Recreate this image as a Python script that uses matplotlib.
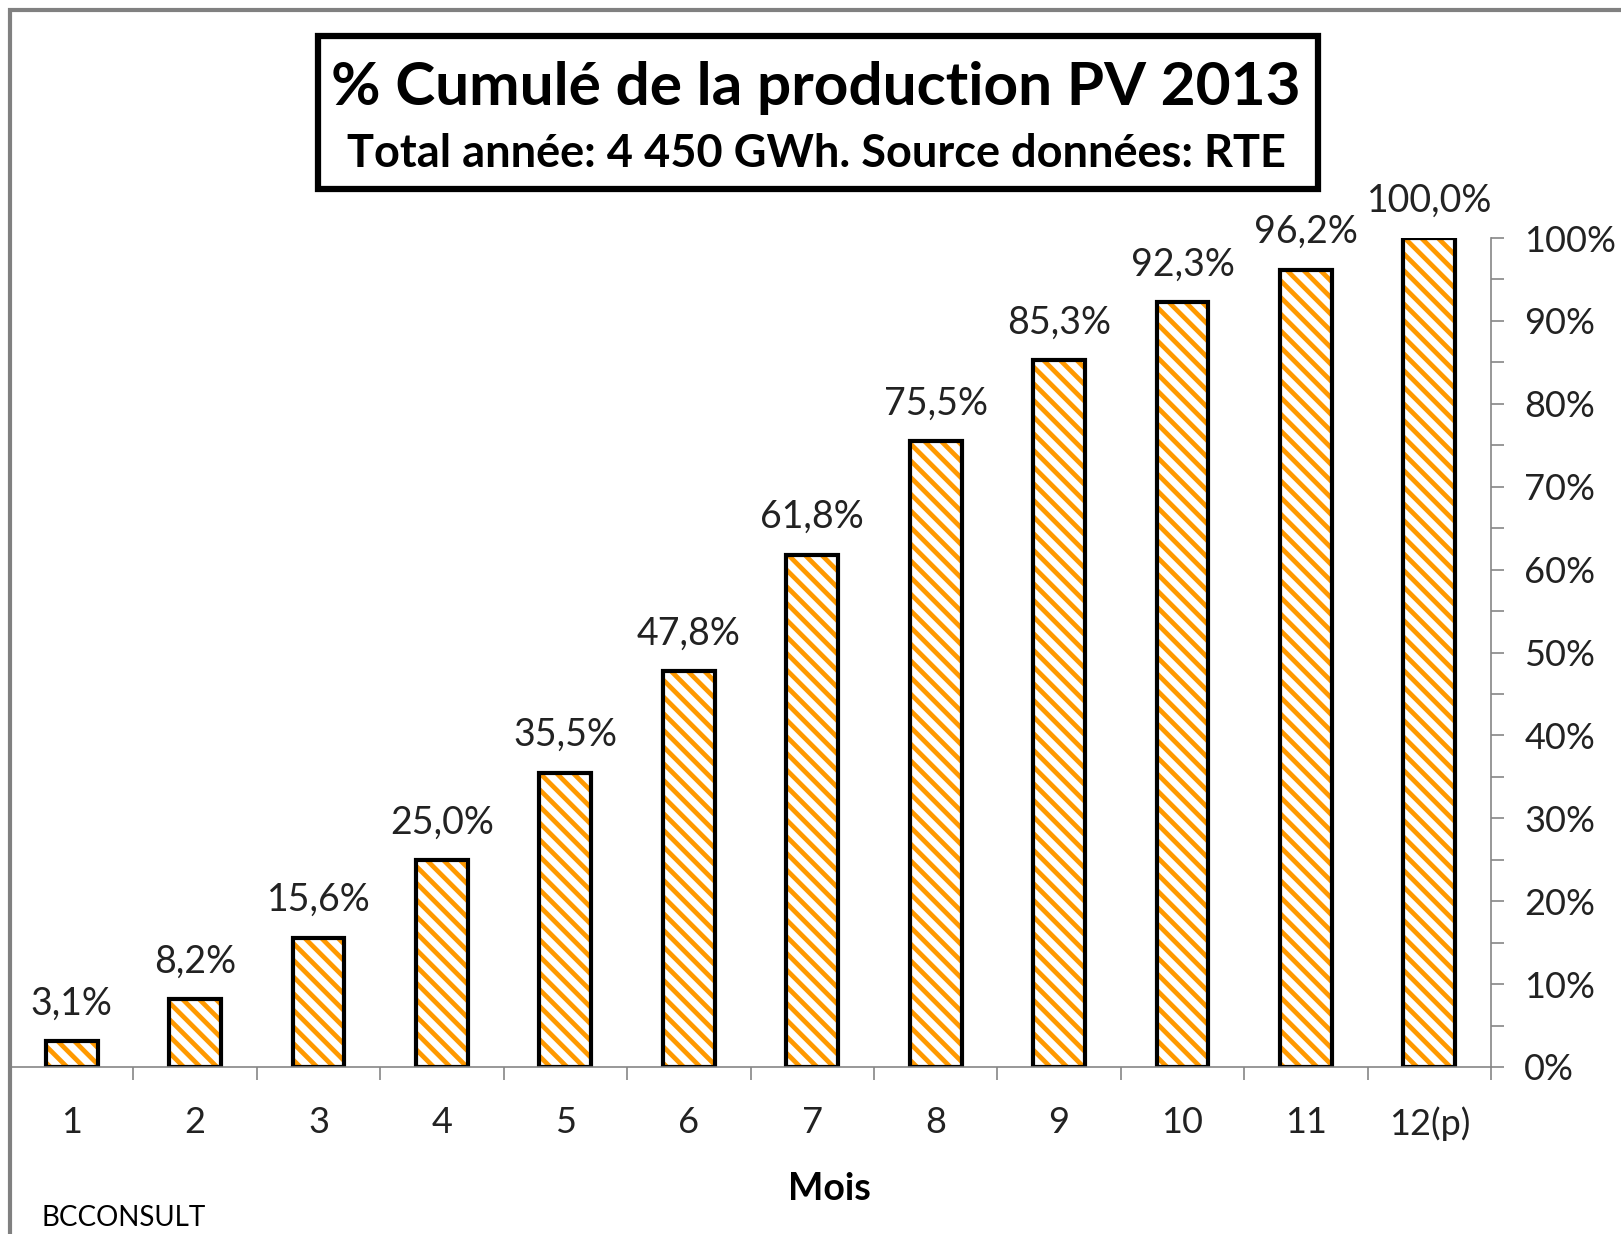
import matplotlib
matplotlib.use("Agg")
import matplotlib.pyplot as plt
from matplotlib.patches import Rectangle
from matplotlib.ticker import MultipleLocator, FixedLocator, NullFormatter

# data
mois = ["1", "2", "3", "4", "5", "6", "7", "8", "9", "10", "11", "12(p)"]
cumul_pct = [3.1, 8.2, 15.6, 25.0, 35.5, 47.8, 61.8, 75.5, 85.3, 92.3, 96.2, 100.0]

title = "% Cumulé de la production PV 2013"
subtitle = "Total année: 4 450 GWh. Source données: RTE"

ORANGE = "#FF9900"
GREY = "#868686"

plt.rcParams["font.family"] = ["Lato", "DejaVu Sans"]
plt.rcParams["hatch.linewidth"] = 3.4

fig = plt.figure(figsize=(16.21, 12.34), dpi=100)
ax = fig.add_axes([10/1621, 167/1234, 1481/1621, 829/1234])

xs = list(range(1, len(mois) + 1))

# hatched fill, then black outline on top
ax.bar(xs, cumul_pct, width=0.42, color="white", edgecolor=ORANGE, hatch="\\\\", linewidth=0)
bars = ax.bar(xs, cumul_pct, width=0.42, fill=False, edgecolor="black", linewidth=3)

for x, v in zip(xs, cumul_pct):
  ax.annotate(f"{v:.1f}".replace(".", ",") + "%", (x, v), xytext=(0, 27),
              textcoords="offset points", ha="center", va="center",
              fontsize=27, color="#222222", annotation_clip=False)

ax.set_xlim(0.5, len(mois) + 0.5)
ax.set_ylim(0, 100)

# spines
for s in ["left", "top"]:
  ax.spines[s].set_visible(False)
ax.spines["bottom"].set_color(GREY)
ax.spines["right"].set_color(GREY)
ax.spines["bottom"].set_linewidth(1.2)
ax.spines["right"].set_linewidth(1.2)

# y axis on right
ax.yaxis.tick_right()
ax.yaxis.set_major_locator(MultipleLocator(10))
ax.yaxis.set_minor_locator(MultipleLocator(5))
ax.set_yticklabels([f"{int(t)}%" for t in ax.get_yticks()])
ax.tick_params(axis="y", which="both", direction="out", length=9, width=1.2,
               color=GREY, labelsize=26, pad=15, labelcolor="#222222")

# x axis: labels at centers, ticks at boundaries
ax.set_xticks(xs)
ax.set_xticklabels(mois)
ax.xaxis.set_minor_locator(FixedLocator([i + 0.5 for i in xs]))
ax.xaxis.set_minor_formatter(NullFormatter())
ax.tick_params(axis="x", which="major", length=0, labelsize=26, pad=28, labelcolor="#222222")
ax.tick_params(axis="x", which="minor", direction="out", length=9, width=1.2, color=GREY)

# title box
fig.patches.append(Rectangle((318/1621, 1 - 189/1234), 1000/1621, 153/1234,
                             transform=fig.transFigure, fill=False,
                             edgecolor="black", linewidth=4.5))
fig.text(816/1621, 1 - 88/1234, title, ha="center", va="center",
         fontsize=43.5, fontweight="bold")
fig.text(816/1621, 1 - 154/1234, subtitle, ha="center", va="center",
         fontsize=32.5, fontweight="bold")

fig.text(829/1621, 1 - 1189/1234, "Mois", ha="center", va="center",
         fontsize=27, fontweight="bold")
fig.text(41/1621, 1 - 1218/1234, "BCCONSULT", ha="left", va="center", fontsize=20)

# outer frame (only top and left visible)
fig.patches.append(Rectangle((10/1621, -0.1), 1.2, 1.1 - 10/1234,
                             transform=fig.transFigure, fill=False,
                             edgecolor="#808080", linewidth=3))

fig.savefig("out.png", dpi=100)
